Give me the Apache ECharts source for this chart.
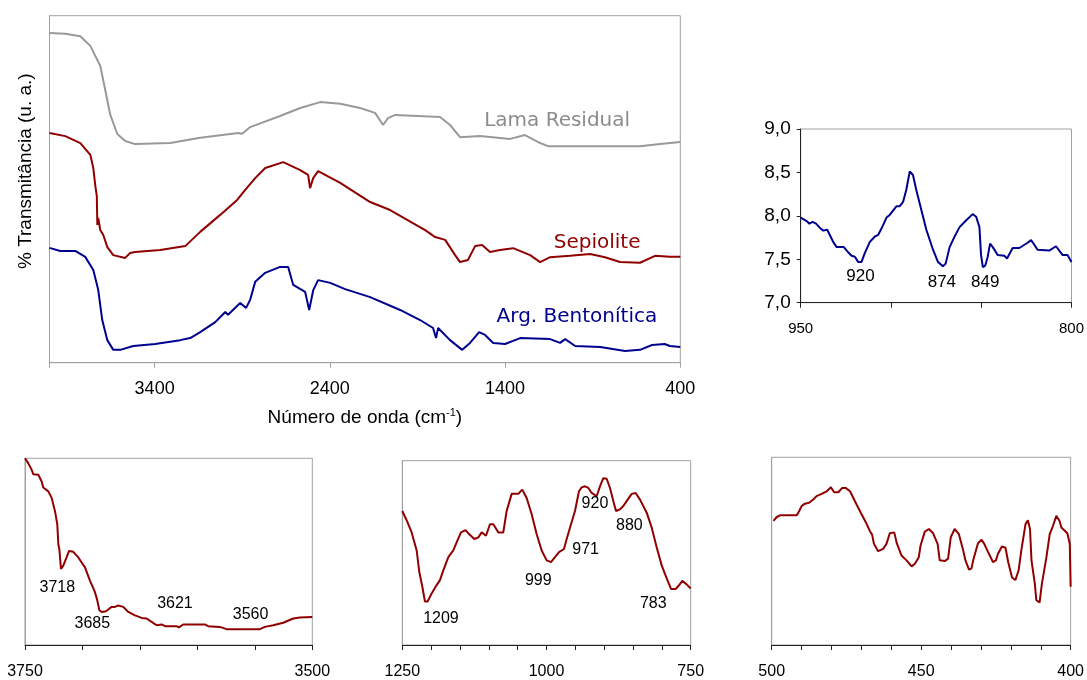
<!DOCTYPE html>
<html>
<head>
<meta charset="utf-8">
<script src="https://cdn.jsdelivr.net/npm/echarts@6/dist/echarts.min.js"></script>
<style>
  html, body { margin: 0; padding: 0; background: #fff; }
  #chart { width: 1087px; height: 680px; }
</style>
</head>
<body>
<div id="chart"></div>
<script>
// espectros completos [número de onda, transmitância (u. a.)]
const lamaResidual = [
  [4000, 95.0], [3910, 94.8], [3824, 94.1], [3767, 91.3], [3710, 85.5], [3682, 78.6],
  [3653, 71.4], [3613, 65.9], [3568, 63.9], [3511, 63.0], [3311, 63.3], [3140, 64.8],
  [2923, 66.2], [2900, 66.0], [2855, 67.9], [2684, 71.1], [2569, 73.4], [2455, 75.1],
  [2341, 74.6], [2227, 73.4], [2142, 72.0], [2096, 68.5], [2068, 70.5], [2027, 71.4],
  [1771, 70.8], [1714, 68.5], [1657, 65.0], [1543, 65.3], [1371, 64.5], [1286, 65.6],
  [1200, 63.3], [1155, 62.4], [915, 62.4], [630, 62.4], [516, 63.0], [400, 63.6],
];
const sepiolite = [
  [4000, 66.2], [3910, 65.3], [3824, 63.3], [3767, 59.9], [3750, 56.1], [3739, 51.2],
  [3730, 48.0], [3727, 39.7], [3722, 41.7], [3710, 38.2], [3693, 36.8], [3670, 33.3],
  [3636, 31.0], [3568, 30.2], [3540, 31.6], [3511, 31.9], [3368, 32.5], [3225, 33.6],
  [3140, 37.7], [3026, 42.6], [2929, 46.9], [2883, 49.8], [2826, 53.2], [2769, 56.1],
  [2666, 57.8], [2569, 55.5], [2524, 54.1], [2513, 50.3], [2495, 53.2], [2467, 55.2],
  [2341, 51.8], [2170, 46.3], [2056, 44.0], [1856, 38.2], [1799, 36.2], [1742, 35.4],
  [1685, 31.0], [1657, 29.0], [1612, 29.6], [1571, 33.6], [1531, 33.9], [1486, 31.9],
  [1429, 32.5], [1354, 33.0], [1257, 31.0], [1200, 29.0], [1143, 30.4], [1029, 30.8],
  [915, 31.3], [830, 30.4], [744, 29.0], [630, 28.8], [544, 30.8], [459, 30.5], [400, 30.5],
];
const argBentonitica = [
  [4000, 33.1], [3939, 32.2], [3853, 32.2], [3796, 30.5], [3750, 26.7], [3722, 21.0],
  [3699, 12.3], [3670, 6.5], [3636, 3.7], [3596, 3.7], [3522, 4.8], [3397, 5.4],
  [3254, 6.5], [3197, 7.1], [3140, 8.8], [3054, 11.7], [2997, 14.6], [2981, 13.8],
  [2912, 17.2], [2878, 15.8], [2855, 18.1], [2826, 23.3], [2769, 25.9], [2684, 27.6],
  [2638, 27.6], [2609, 22.4], [2541, 20.4], [2518, 15.2], [2495, 20.9], [2467, 23.8],
  [2398, 23.0], [2313, 21.2], [2170, 18.9], [1999, 15.2], [1885, 12.3], [1811, 10.0],
  [1794, 7.1], [1782, 10.0], [1714, 6.5], [1645, 3.7], [1600, 5.7], [1548, 8.8],
  [1514, 8.0], [1468, 5.7], [1400, 5.4], [1314, 7.1], [1143, 6.8], [1086, 5.7],
  [1057, 6.8], [1000, 4.8], [857, 4.5], [715, 3.4], [630, 3.7], [561, 5.1], [489, 5.4],
  [459, 4.8], [400, 4.5],
];
// detalhe 950-800 cm-1 (Arg. Bentonítica)
const bentDetalhe = [
  [950, 7.98], [946.7, 7.94], [945.2, 7.91], [943.4, 7.93], [941.5, 7.91], [939.3, 7.86],
  [937.5, 7.83], [935.3, 7.84], [933.4, 7.76], [932, 7.70], [930.1, 7.64], [926.1, 7.64],
  [923.7, 7.58], [921.8, 7.54], [920.0, 7.53], [918.2, 7.47], [916.3, 7.47], [914.5, 7.57],
  [911.7, 7.70], [909.0, 7.76], [907.1, 7.78], [904.4, 7.89], [902.5, 7.98], [900.7, 8.01],
  [897.0, 8.11], [895.2, 8.11], [893.3, 8.16], [891.5, 8.30], [889.6, 8.51], [888.7, 8.52],
  [887.8, 8.47], [886.0, 8.30], [883.2, 8.07], [880.4, 7.84], [876.7, 7.61], [874.0, 7.47],
  [871.2, 7.42], [869.7, 7.45], [867.5, 7.64], [864.8, 7.76], [862.0, 7.87], [858.3, 7.95],
  [854.7, 8.02], [852.8, 7.99], [851.0, 7.87], [850.1, 7.55], [849.1, 7.41], [847.7, 7.43],
  [846.4, 7.53], [845.1, 7.68], [843.6, 7.64], [840.9, 7.55], [837.2, 7.54], [835.7, 7.51],
  [832.6, 7.63], [828.9, 7.63], [824.3, 7.69], [822.4, 7.72], [821.0, 7.68], [818.8, 7.61],
  [812.3, 7.60], [808.6, 7.65], [805.0, 7.55], [802.2, 7.55], [800.0, 7.47],
];
// detalhes da sepiolite
const sepOH = [
  [3750, 100], [3747.1, 97.3], [3744.2, 93.8], [3742.8, 91.5], [3738.4, 91.2], [3735.5, 87.6],
  [3734.1, 84.4], [3729.7, 82.3], [3726.8, 78.8], [3723.9, 71.7], [3721.9, 64.6], [3721.0, 54.0],
  [3720.1, 51.3], [3718.7, 40.7], [3716.7, 42.5], [3713.8, 46.9], [3711.7, 50.4], [3708.0, 49.9],
  [3703.6, 46.9], [3697.8, 41.6], [3693.5, 34.5], [3689.1, 28.3], [3687.1, 23.9], [3685.3, 18.6],
  [3683.3, 17.7], [3679.5, 18.1], [3674.6, 20.4], [3671.7, 20.4], [3668.8, 21.2], [3664.5, 20.4],
  [3660.1, 17.7], [3654.3, 15.9], [3648.5, 14.5], [3644.2, 14.2], [3639.8, 12.4], [3635.5, 10.6],
  [3631.1, 11.0], [3628.2, 10.1], [3618.1, 10.1], [3616.1, 9.4], [3612.3, 11.0], [3593.5, 11.0],
  [3590.6, 10.1], [3580.4, 9.7], [3574.6, 8.5], [3545.6, 8.5], [3541.3, 9.7], [3534.0, 10.6],
  [3525.3, 11.9], [3516.6, 14.2], [3510.8, 14.7], [3500, 15.0],
];
const sepSiO = [
  [1250, 72.7], [1242.5, 67.7], [1233.8, 61.1], [1225.1, 51.3], [1220.5, 39.6], [1215.3, 31.6],
  [1210.7, 23.6], [1206.1, 23.6], [1199.1, 28.0], [1190.5, 32.5], [1184.7, 35.2], [1178.9, 40.5],
  [1170.2, 47.7], [1161.6, 51.3], [1155.8, 55.7], [1148.3, 61.1], [1140.2, 62.3], [1134.4, 60.2],
  [1125.2, 57.5], [1118.2, 58.4], [1112.4, 61.1], [1104.9, 59.3], [1098.0, 65.5], [1092.2, 65.5],
  [1083.5, 61.1], [1074.9, 61.1], [1069.1, 72.7], [1060.4, 82.0], [1048.9, 82.0], [1042.0, 84.3],
  [1034.4, 79.8], [1025.7, 70.9], [1017.1, 60.2], [1008.4, 51.3], [999.7, 45.9], [992.2, 45.0],
  [985.3, 47.7], [978.3, 50.4], [969.7, 52.1], [965.0, 57.5], [957.5, 65.5], [950.6, 72.7],
  [943.7, 83.4], [939.0, 85.5], [933.3, 86.1], [927.5, 85.2], [921.7, 82.5], [913.0, 80.7],
  [907.3, 86.1], [901.5, 90.5], [895.7, 90.2], [889.9, 85.2], [884.1, 78.0], [879.5, 72.7],
  [872.6, 73.6], [866.8, 75.4], [859.3, 78.9], [852.3, 82.0], [845.4, 82.5], [837.9, 78.9],
  [826.3, 71.8], [817.7, 63.8], [809.0, 53.0], [800.3, 43.2], [791.6, 36.1], [784.1, 30.4],
  [776.0, 30.4], [771.4, 32.0], [764.5, 34.8], [757.0, 32.9], [750, 30.7],
];
const sepBaixa = [
  [499.4, 66.1], [498.3, 68.2], [497.2, 69.1], [491.6, 69.1], [490.8, 71.4], [490.0, 74.0],
  [488.9, 75.3], [487.5, 75.8], [486.1, 77.5], [485.0, 79.3], [483.3, 80.5], [481.6, 81.9],
  [480.2, 84.0], [479.1, 81.4], [477.7, 81.4], [476.4, 83.7], [475.3, 83.7], [473.8, 81.9],
  [472.2, 76.7], [470.2, 70.5], [468.3, 64.7], [467.1, 60.5], [466.4, 58.8], [465.8, 53.9],
  [464.4, 50.0], [462.7, 51.2], [461.6, 53.9], [460.5, 59.5], [459.0, 60.0], [458.2, 54.4],
  [456.6, 47.7], [454.9, 45.1], [453.2, 41.9], [452.1, 43.3], [450.8, 46.8], [450.2, 53.0],
  [448.8, 60.4], [447.4, 61.8], [446.0, 59.5], [444.5, 53.9], [443.8, 45.1], [442.1, 44.7],
  [441.0, 46.0], [440.1, 57.4], [438.8, 61.8], [437.4, 59.1], [436.0, 50.7], [435.2, 45.1],
  [434.0, 40.2], [433.2, 40.7], [432.6, 45.1], [431.0, 54.2], [429.8, 56.1], [428.9, 53.9],
  [427.6, 49.5], [426.0, 44.2], [425.0, 45.1], [424.3, 48.6], [423.0, 52.5], [421.8, 51.8],
  [420.9, 44.2], [419.6, 36.0], [418.5, 34.6], [417.4, 39.8], [416.5, 50.4], [415.1, 64.4],
  [414.3, 66.5], [413.6, 61.8], [413.1, 45.1], [412.0, 32.8], [411.5, 24.0], [410.4, 22.6],
  [409.6, 32.8], [408.1, 46.8], [407.0, 59.1], [405.9, 63.5], [404.8, 68.8], [403.7, 66.1],
  [403.1, 62.6], [401.1, 59.5], [400.3, 53.9], [400.0, 31.0],
];
// rótulos das curvas e das bandas [x, y, texto]
const nomesCurvas = [[1103, 69.7, 'Lama Residual'], [875, 34.5, 'Sepiolite'], [990, 13.2, 'Arg. Bentonítica']];
const bandasDetalhe = [[916.9, 7.30, '920'], [871.8, 7.235, '874'], [847.8, 7.235, '849']];
const bandasOH = [[3721.9, 30.6, '3718'], [3691.4, 11.5, '3685'], [3619.5, 22.1, '3621'], [3553.7, 16.3, '3560']];
const bandasSiO = [[1183, 14.3, '1209'], [1014.2, 34.8, '999'], [932.1, 51.6, '971'], [916, 76.6, '920'], [856.4, 65.0, '880'], [814.8, 22.7, '783']];

const GRAY = '#a0a0a0';
const RED = '#900000';
const BLUE = '#000090';
const FONT = 'Liberation Sans';

const chart = echarts.init(document.getElementById('chart'));

function rotulos(list, color, size, family) {
  return {
    symbol: 'rect',
    symbolSize: 1,
    itemStyle: { color: 'rgba(0,0,0,0)' },
    label: {
      show: true,
      position: 'inside',
      formatter: '{b}',
      color: color,
      fontSize: size,
      fontFamily: family,
    },
    data: list.map((d) => ({ name: d[2], coord: [d[0], d[1]] })),
  };
}

function eixoX(idx, min, max, interval, shown, margin, size) {
  return {
    type: 'value',
    gridIndex: idx,
    min: min,
    max: max,
    interval: interval,
    inverse: true,
    axisLine: { show: true, onZero: false, lineStyle: { color: '#222', width: 1 } },
    axisTick: { show: true, inside: false, length: 5, lineStyle: { color: '#222' } },
    splitLine: { show: false },
    axisLabel: {
      margin: margin,
      fontSize: size,
      fontFamily: FONT,
      color: '#000',
      showMinLabel: true,
      showMaxLabel: true,
      formatter: (v) => (shown.indexOf(v) >= 0 ? String(v) : ''),
    },
  };
}

function eixoY(idx) {
  return {
    type: 'value',
    gridIndex: idx,
    min: 0,
    max: 100,
    axisLine: { show: true, lineStyle: { color: GRAY } },
    axisTick: { show: false },
    axisLabel: { show: false },
    splitLine: { show: false },
  };
}

const mainX = eixoX(0, 400, 4000, 1000, [400, 1400, 2400, 3400], 17, 18);
mainX.axisLine.lineStyle.color = GRAY;
mainX.axisTick.lineStyle.color = GRAY;
mainX.name = '{t|Número de onda (cm}{s|-1}{t|)}';
mainX.nameLocation = 'middle';
mainX.nameGap = 45;
mainX.nameTextStyle = {
  rich: {
    t: { fontSize: 19, fontFamily: FONT, color: '#000' },
    s: { fontSize: 11, fontFamily: FONT, color: '#000', verticalAlign: 'top', padding: [0, 0, 9, 0] },
  },
};

const mainY = eixoY(0);
mainY.name = '% Transmitância (u. a.)';
mainY.nameLocation = 'middle';
mainY.nameGap = 14;
mainY.nameTextStyle = { fontSize: 19, fontFamily: FONT, color: '#000', padding: [0, 0, 0, 36] };

const detX = eixoX(1, 800, 950, 50, [800, 950], 19, 15);
const detY = {
  type: 'value',
  gridIndex: 1,
  min: 7,
  max: 9,
  interval: 0.5,
  axisLine: { show: true, lineStyle: { color: '#222' } },
  axisTick: { show: true, inside: false, length: 4, lineStyle: { color: '#222' } },
  splitLine: { show: false },
  axisLabel: {
    margin: 10,
    fontSize: 19,
    fontFamily: FONT,
    color: '#000',
    formatter: (v) => v.toFixed(1).replace('.', ','),
  },
};

const lineSeries = (name, data, color, idx, width) => ({
  name: name,
  type: 'line',
  xAxisIndex: idx,
  yAxisIndex: idx,
  data: data,
  showSymbol: false,
  symbol: 'none',
  lineStyle: { color: color, width: width },
  clip: true,
});

const sLama = lineSeries('Lama Residual', lamaResidual, '#999999', 0, 2);
sLama.markPoint = rotulos([nomesCurvas[0]], '#8c8c8c', 20, 'DejaVu Sans');
const sSep = lineSeries('Sepiolite', sepiolite, RED, 0, 2);
sSep.markPoint = rotulos([nomesCurvas[1]], RED, 20, 'DejaVu Sans');
const sBent = lineSeries('Arg. Bentonítica', argBentonitica, BLUE, 0, 2);
sBent.markPoint = rotulos([nomesCurvas[2]], BLUE, 20, 'DejaVu Sans');
const sDet = lineSeries('Detalhe bentonite', bentDetalhe, BLUE, 1, 2);
sDet.markPoint = rotulos(bandasDetalhe, '#000', 17, FONT);
const sOH = lineSeries('Sepiolite OH', sepOH, RED, 2, 2);
sOH.markPoint = rotulos(bandasOH, '#000', 16, FONT);
const sSiO = lineSeries('Sepiolite Si-O', sepSiO, RED, 3, 2);
sSiO.markPoint = rotulos(bandasSiO, '#000', 16, FONT);
const sBaixa = lineSeries('Sepiolite 500-400', sepBaixa, RED, 4, 2);

const grid = (left, top, width, height) => ({
  left: left,
  top: top,
  width: width,
  height: height,
  show: true,
  borderColor: GRAY,
  borderWidth: 1,
  backgroundColor: '#fff',
});

chart.setOption({
  animation: false,
  backgroundColor: '#fff',
  grid: [
    grid(49.5, 15.7, 630.8, 347),
    grid(800.7, 129, 271.6, 173.7),
    grid(25, 458.3, 287.3, 188.4),
    grid(402.3, 460.7, 288.4, 186.6),
    grid(771.7, 457.3, 299.3, 190),
  ],
  xAxis: [
    mainX,
    detX,
    eixoX(2, 3500, 3750, 50, [3500, 3750], 19, 16),
    eixoX(3, 750, 1250, 50, [750, 1000, 1250], 19, 16),
    eixoX(4, 400, 500, 10, [400, 450, 500], 19, 16),
  ],
  yAxis: [mainY, detY, eixoY(2), eixoY(3), eixoY(4)],
  series: [sLama, sSep, sBent, sDet, sOH, sSiO, sBaixa],
});
</script>
</body>
</html>
